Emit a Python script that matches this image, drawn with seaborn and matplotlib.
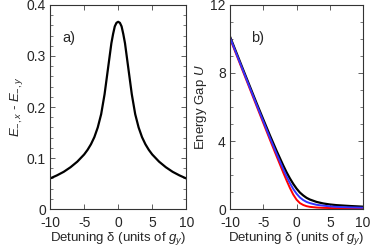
import matplotlib
matplotlib.use('Agg')
import matplotlib.pyplot as plt
import seaborn as sns
import pandas as pd
from matplotlib.ticker import MultipleLocator, FuncFormatter

sns.set_style('ticks')
plt.rcParams['font.family'] = ['Liberation Sans', 'DejaVu Sans']
plt.rcParams['mathtext.fontset'] = 'custom'
plt.rcParams['mathtext.it'] = 'Liberation Sans:italic'
plt.rcParams['mathtext.rm'] = 'Liberation Sans'
plt.rcParams['axes.unicode_minus'] = False

# panel a) - energy difference vs detuning (symmetric)
half_delta = [-10, -9, -8, -7, -6, -5.5, -5, -4.5, -4, -3.5, -3, -2.5, -2, -1.75,
              -1.5, -1.25, -1, -0.75, -0.5, -0.25]
half_diff = [0.060, 0.066, 0.073, 0.082, 0.093, 0.100, 0.107, 0.116, 0.127, 0.141,
             0.160, 0.186, 0.225, 0.250, 0.275, 0.300, 0.325, 0.343, 0.358, 0.365]
peak_diff = 0.367
delta_a = half_delta + [0] + [-d for d in half_delta[::-1]]
diff_a = half_diff + [peak_diff] + half_diff[::-1]

# panel b) - energy gap U, three curves
delta_b = [-10, -8, -6, -5, -4, -3, -2, -1.5, -1, -0.5, 0, 0.5, 1, 1.5, 2, 3, 4, 5, 6, 8, 10]
gap_black = [10.14, 8.17, 6.22, 5.27, 4.33, 3.42, 2.56, 2.16, 1.80, 1.48, 1.20,
             0.97, 0.80, 0.66, 0.56, 0.42, 0.33, 0.27, 0.23, 0.18, 0.14]
gap_blue = [10.08, 8.10, 6.13, 5.16, 4.19, 3.25, 2.35, 1.92, 1.53, 1.18, 0.90,
            0.68, 0.53, 0.42, 0.35, 0.25, 0.20, 0.16, 0.13, 0.10, 0.08]
gap_red = [10.03, 8.04, 6.05, 5.06, 4.07, 3.10, 2.14, 1.68, 1.24, 0.85, 0.55,
           0.35, 0.24, 0.17, 0.13, 0.09, 0.07, 0.06, 0.05, 0.04, 0.03]

df_a = pd.DataFrame({'delta': delta_a, 'diff': diff_a})
df_b = pd.DataFrame({'delta': delta_b, 'black': gap_black, 'blue': gap_blue, 'red': gap_red})

fig = plt.figure(figsize=(3.74, 2.48), dpi=100)
ax1 = fig.add_axes([0.134, 0.157, 0.364, 0.823])
ax2 = fig.add_axes([0.615, 0.157, 0.356, 0.823])

sns.lineplot(data=df_a, x='delta', y='diff', color='black', lw=1.6, ax=ax1)
sns.lineplot(data=df_b, x='delta', y='black', color='black', lw=1.6, ax=ax2)
sns.lineplot(data=df_b, x='delta', y='red', color='#ff0000', lw=1.4, ax=ax2)
sns.lineplot(data=df_b, x='delta', y='blue', color='#3333ff', lw=1.4, ax=ax2)

ax1.set_xlim(-10, 10)
ax1.set_ylim(0, 0.4)
ax1.yaxis.set_major_locator(MultipleLocator(0.1))
ax1.yaxis.set_minor_locator(MultipleLocator(0.02))
ax1.yaxis.set_major_formatter(FuncFormatter(lambda v, p: '0' if abs(v) < 1e-9 else '%g' % v))
ax1.set_ylabel(r'$E_{-,x}$ - $E_{-,y}$', fontsize=9.5, labelpad=1)
ax1.text(-8.2, 0.335, 'a)', fontsize=10.5, va='center')

ax2.set_xlim(-10, 10)
ax2.set_ylim(0, 12)
ax2.yaxis.set_major_locator(MultipleLocator(4))
ax2.yaxis.set_minor_locator(MultipleLocator(1))
ax2.set_ylabel(r'Energy Gap $U$', fontsize=9.5, labelpad=1)
ax2.text(-6.8, 10.05, 'b)', fontsize=10.5, va='center')

for ax in (ax1, ax2):
    ax.xaxis.set_major_locator(MultipleLocator(5))
    ax.set_xlabel(r'Detuning δ (units of $g_y$)', fontsize=9.5, labelpad=0)
    ax.tick_params(which='both', direction='in', top=True, right=True,
                   labelsize=10, color='#444444')
    ax.tick_params(axis='x', pad=5)
    ax.tick_params(axis='y', pad=3)
    ax.tick_params(which='major', length=3.5, width=0.6)
    ax.tick_params(which='minor', length=2, width=0.5)
    for s in ax.spines.values():
        s.set_linewidth(0.8)
        s.set_color('#333333')

fig.savefig('out.png', dpi=100)
